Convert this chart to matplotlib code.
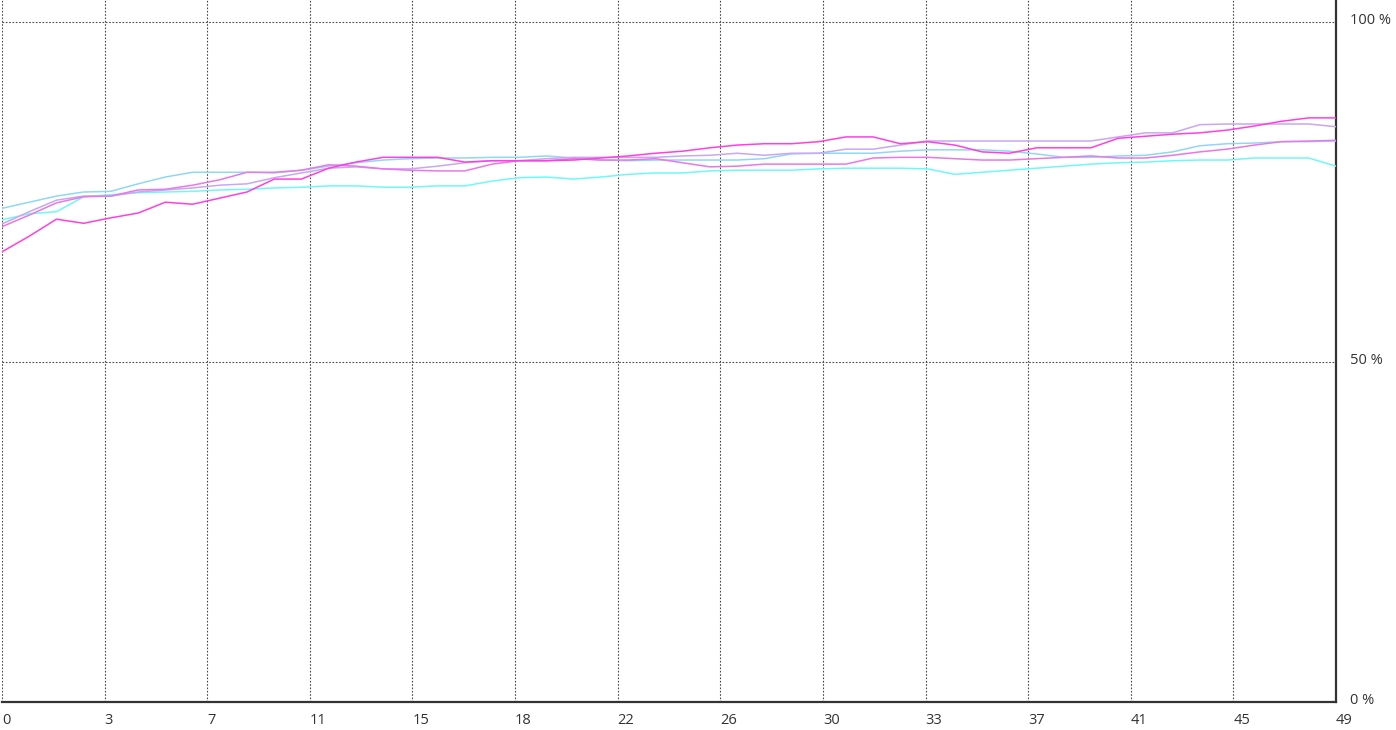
import matplotlib
matplotlib.use("Agg")
import matplotlib.pyplot as plt
import numpy as np

# percent values per sample (0..49)
series_a = [66.2, 68.5, 71.0, 70.4, 71.2, 71.9, 73.5, 73.2, 74.1, 75.0,
            76.9, 76.9, 78.5, 79.4, 80.1, 80.1, 80.1, 79.4, 79.6, 79.6,
            79.6, 79.7, 80.0, 80.3, 80.7, 81.0, 81.5, 81.9, 82.1, 82.1,
            82.4, 83.1, 83.1, 82.1, 82.4, 81.9, 80.9, 80.7, 81.5, 81.5,
            81.5, 82.9, 83.2, 83.5, 83.7, 84.1, 84.7, 85.4, 85.9, 85.9]
series_b = [69.9, 71.6, 73.4, 74.3, 74.4, 75.3, 75.4, 76.0, 76.8, 77.9,
            77.9, 78.2, 79.0, 78.8, 78.4, 78.2, 78.1, 78.1, 79.1, 79.6,
            79.6, 79.9, 79.7, 79.7, 79.9, 79.3, 78.7, 78.8, 79.1, 79.1,
            79.1, 79.1, 80.0, 80.1, 80.1, 79.9, 79.7, 79.7, 79.9, 80.1,
            80.3, 80.0, 80.0, 80.4, 80.9, 81.3, 81.9, 82.4, 82.5, 82.6]
series_c = [70.3, 72.1, 73.8, 74.4, 74.4, 75.0, 75.3, 75.6, 76.0, 76.2,
            77.1, 77.8, 78.5, 78.7, 78.4, 78.4, 78.8, 79.3, 79.6, 79.6,
            79.9, 80.1, 80.1, 80.1, 80.1, 80.3, 80.4, 80.7, 80.4, 80.7,
            80.7, 81.3, 81.3, 81.9, 82.5, 82.5, 82.5, 82.5, 82.5, 82.5,
            82.5, 83.1, 83.7, 83.7, 84.9, 85.0, 85.0, 85.0, 85.0, 84.6]
series_d = [72.6, 73.5, 74.4, 75.0, 75.1, 76.2, 77.2, 77.9, 77.9, 77.9,
            77.8, 78.2, 78.8, 79.3, 79.7, 79.9, 80.0, 80.0, 80.1, 80.1,
            80.3, 80.0, 79.7, 79.6, 79.7, 79.7, 79.7, 79.7, 79.9, 80.6,
            80.7, 80.7, 80.7, 81.0, 81.2, 81.2, 81.2, 81.0, 80.6, 80.1,
            80.1, 80.3, 80.4, 80.9, 81.8, 82.1, 82.2, 82.4, 82.4, 82.5]
series_e = [70.9, 71.8, 72.1, 74.3, 74.6, 74.9, 75.0, 75.1, 75.3, 75.4,
            75.6, 75.7, 75.9, 75.9, 75.7, 75.7, 75.9, 75.9, 76.6, 77.1,
            77.2, 76.9, 77.2, 77.6, 77.8, 77.8, 78.1, 78.2, 78.2, 78.2,
            78.4, 78.5, 78.5, 78.5, 78.4, 77.6, 77.9, 78.2, 78.5, 78.8,
            79.1, 79.3, 79.4, 79.6, 79.7, 79.7, 80.0, 80.0, 80.0, 78.8]

x_max = 49
n_div = 13
y_ticks = [0, 50, 100]
y_labels = ["0 %", "50 %", "100 %"]

line_colors = ["#ff40e0", "#e878e8", "#c8a8f0", "#90d8f0", "#70f8f8"]

W, H = 1396, 730
fig = plt.figure(figsize=(W / 100, H / 100), dpi=100)
ax = fig.add_axes([2 / W, 28 / H, (1336 - 2) / W, (702 - 0) / H])

x = np.arange(len(series_a))
draw_order = [series_e, series_d, series_c, series_b, series_a]
draw_colors = line_colors[::-1]
for values, color in zip(draw_order, draw_colors):
    ax.plot(x, values, color=color, linewidth=1.1, zorder=3)

ax.set_xlim(0, x_max)
ax.set_ylim(0, 100 * 702 / 680)

x_grid = [x_max * k / n_div for k in range(n_div + 1)]
for gx in x_grid:
    ax.axvline(gx, color="#4a4a4a", linestyle=(0, (1.5, 1.5)), linewidth=0.8, zorder=1)
for gy in y_ticks[1:]:
    ax.axhline(gy, color="#4a4a4a", linestyle=(0, (1.5, 1.5)), linewidth=0.8, zorder=1)

ax.set_xticks([])
ax.set_yticks([])
for side in ["top", "left"]:
    ax.spines[side].set_visible(False)
for side in ["right", "bottom"]:
    ax.spines[side].set_color("#333333")
    ax.spines[side].set_linewidth(1.6)

font = dict(family=["Open Sans", "DejaVu Sans"], size=10.5, color="#333333")
for gx in x_grid:
    ax.text(gx, -0.016, str(int(gx)), transform=ax.get_xaxis_transform(),
            ha="left", va="top", **font)
for gy, lab in zip(y_ticks, y_labels):
    ax.text(1.0105, gy + 0.2, lab, transform=ax.get_yaxis_transform(),
            ha="left", va="center", **font)

fig.savefig("out.png", dpi=100)
